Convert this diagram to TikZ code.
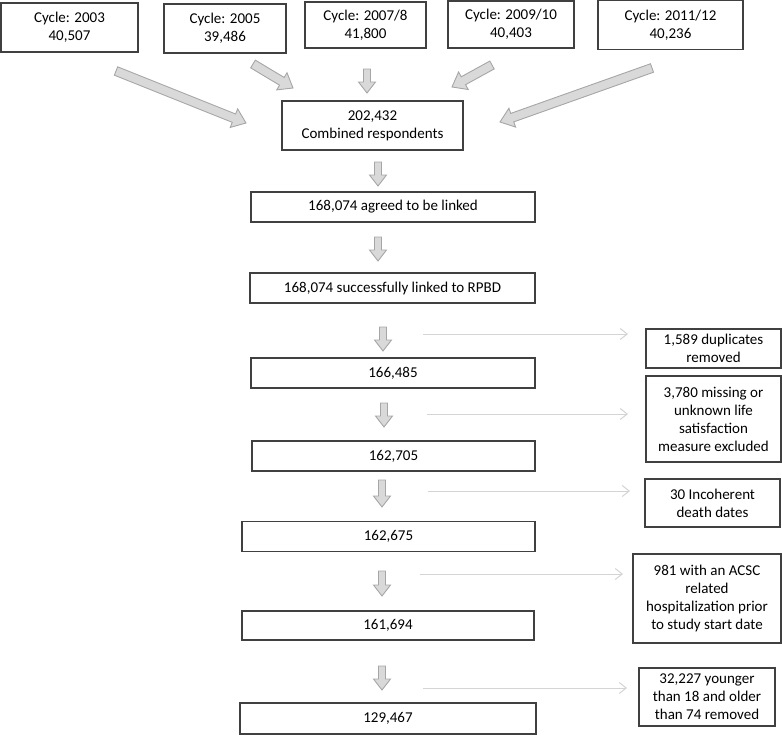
\documentclass[tikz,border=0pt]{standalone}
\usepackage{fontspec}
\setmainfont{Carlito}
\usetikzlibrary{calc,arrows.meta}

\definecolor{boxline}{HTML}{404040}
\definecolor{arrowfill}{HTML}{D9D9D9}
\definecolor{arrowline}{HTML}{A6A6A6}
\definecolor{sideline}{HTML}{D4D4D4}

% block arrow: from, to, half shaft width, half head width, head length
\newcommand{\fatarrow}[5]{%
  \coordinate (neck) at ($(#2)!#5!(#1)$);
  \draw[blockarrow] ($(#1)!#3!90:(#2)$) -- ($(neck)!#3!90:(#2)$) -- ($(neck)!#4!90:(#2)$)
    -- (#2) -- ($(neck)!#4!-90:(#2)$) -- ($(neck)!#3!-90:(#2)$) -- ($(#1)!#3!-90:(#2)$) -- cycle;}

\begin{document}
\begin{tikzpicture}[x=1pt,y=-1pt,
  box/.style={draw=boxline, line width=1.2pt, align=center, inner sep=2pt,
    font=\fontsize{15}{18}\selectfont},
  blockarrow/.style={fill=arrowfill, draw=arrowline, line width=0.9pt, line join=miter},
  sidearrow/.style={draw=sideline, line width=1pt, -{Straight Barb[length=7pt,width=11pt]}}]
  \useasboundingbox (0,0) rectangle (782,736);

  % Define nodes
  \node[box, minimum width=137, minimum height=49] (c1) at (69.5,27.5) {Cycle: 2003\\40,507};
  \node[box, minimum width=122, minimum height=49] (c2) at (225,28.5) {Cycle: 2005\\39,486};
  \node[box, minimum width=121, minimum height=46] (c3) at (365.5,25) {Cycle: 2007/8\\41,800};
  \node[box, minimum width=126, minimum height=47] (c4) at (511,24.5) {Cycle: 2009/10\\40,403};
  \node[box, minimum width=145, minimum height=49] (c5) at (670.5,25) {Cycle: 2011/12\\40,236};

  \node[box, minimum width=181, minimum height=49] (all) at (372.5,125.5) {202,432\\Combined respondents};
  \node[box, minimum width=284, minimum height=30] (agreed) at (393,207) {168,074 agreed to be linked};
  \node[box, minimum width=285, minimum height=30] (linked) at (392.5,288) {168,074 successfully linked to RPBD};
  \node[box, minimum width=284, minimum height=30] (n1) at (393,373) {166,485};
  \node[box, minimum width=283, minimum height=30] (n2) at (393.5,456) {162,705};
  \node[box, minimum width=293, minimum height=30] (n3) at (388.5,536.5) {162,675};
  \node[box, minimum width=292, minimum height=29] (n4) at (388,625.5) {161,694};
  \node[box, minimum width=296, minimum height=31] (n5) at (388,718.5) {129,467};

  \node[box, minimum width=135, minimum height=39] (x1) at (713.5,348.5) {1,589 duplicates\\removed};
  \node[box, minimum width=135, minimum height=86] (x2) at (713.5,419) {3,780 missing or\\unknown life\\satisfaction\\measure excluded};
  \node[box, minimum width=135, minimum height=48] (x3) at (712.5,503) {30 Incoherent\\death dates};
  \node[box, minimum width=148, minimum height=89] (x4) at (707,598.5) {981 with an ACSC\\related\\hospitalization prior\\to study start date};
  \node[box, minimum width=136, minimum height=58] (x5) at (707,697) {32,227 younger\\than 18 and older\\than 74 removed};

  % Arrow ends
  \coordinate (a1) at (116,71);  \coordinate (b1) at (246,123);
  \coordinate (a2) at (253,64);  \coordinate (b2) at (293,88);
  \coordinate (a3) at (367,69);  \coordinate (b3) at (367,93);
  \coordinate (a4) at (492,65);  \coordinate (b4) at (452,87);
  \coordinate (a5) at (652,68);  \coordinate (b5) at (500,122);
  \coordinate (d1) at (378,162); \coordinate (f1) at (378,186);
  \coordinate (d2) at (378,237); \coordinate (f2) at (378,261);
  \coordinate (d3) at (383,327); \coordinate (f3) at (383,351);
  \coordinate (d4) at (384,403); \coordinate (f4) at (384,427);
  \coordinate (d5) at (382,480); \coordinate (f5) at (382,507);
  \coordinate (d6) at (382,571); \coordinate (f6) at (382,596);
  \coordinate (d7) at (382,666); \coordinate (f7) at (382,690);
  \coordinate (s1) at (423,334); \coordinate (e1) at (628,334);
  \coordinate (s2) at (427,414); \coordinate (e2) at (628,414);
  \coordinate (s3) at (428,491); \coordinate (e3) at (630,491);
  \coordinate (s4) at (420,574); \coordinate (e4) at (623,574);
  \coordinate (s5) at (423,688); \coordinate (e5) at (627,688);

  % Draw edges
  \fatarrow{a1}{b1}{4.5pt}{10pt}{13pt}
  \fatarrow{a2}{b2}{4.5pt}{10pt}{13pt}
  \fatarrow{a3}{b3}{3.5pt}{8.5pt}{11pt}
  \fatarrow{a4}{b4}{4.5pt}{10pt}{13pt}
  \fatarrow{a5}{b5}{4.5pt}{10pt}{13pt}
  \foreach \i in {1,...,7} {\fatarrow{d\i}{f\i}{3.5pt}{8.5pt}{11pt}}
  \foreach \i in {1,...,5} {\draw[sidearrow] (s\i) -- (e\i);}
\end{tikzpicture}
\end{document}
